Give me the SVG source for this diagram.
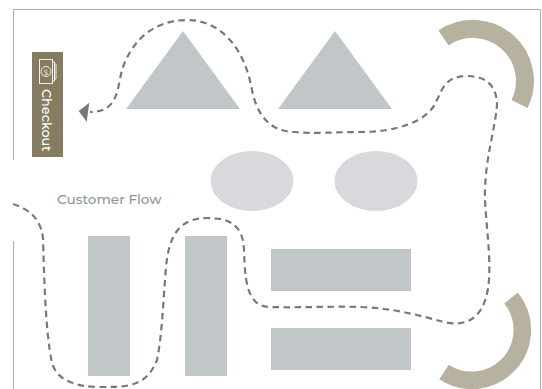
<svg xmlns="http://www.w3.org/2000/svg" width="542" height="389" viewBox="0 0 542 389">
<style>
.frame{fill:none;stroke:#aeaeae;stroke-width:1}
.tri{fill:#c1c7c9}
.rect{fill:#c1c7c9}
.ell{fill:#d7d9dd}
.arc{fill:none;stroke:#b7b2a0}
.flow{fill:none;stroke:#77787c;stroke-width:2.200;stroke-dasharray:6.500 4.500}
.t{font-family:"Montserrat","Inter","Liberation Sans",sans-serif}
</style>
<rect width="542" height="389" fill="#fff"/>
<path class="frame" d="M13.500 160V9.500H540.500V389M13.500 241V389"/>
<g id="node-triangle-1"><polygon class="tri" points="183,31 240,109 126,109"/></g>
<g id="node-triangle-2"><polygon class="tri" points="335,31 392,109 278,109"/></g>
<g id="node-ellipse-1"><ellipse class="ell" cx="252" cy="181" rx="41.500" ry="30"/></g>
<g id="node-ellipse-2"><ellipse class="ell" cx="376" cy="181" rx="41.500" ry="30"/></g>
<g id="node-rect-1"><rect class="rect" x="88" y="236" width="42" height="140"/></g>
<g id="node-rect-2"><rect class="rect" x="185" y="236" width="42" height="140"/></g>
<g id="node-rect-3"><rect class="rect" x="271" y="249" width="140" height="42"/></g>
<g id="node-rect-4"><rect class="rect" x="271" y="328" width="140" height="42"/></g>
<g id="node-arc-1"><path class="arc" stroke-width="18" d="M443.500 38A52 52 0 0 1 519.500 104"/></g>
<g id="node-arc-2"><path class="arc" stroke-width="17.500" d="M511 298A50.500 50.500 0 0 1 444 372"/></g>
<g id="node-checkout"><rect x="32" y="52" width="31" height="105" fill="#867c5f"/>
<g fill="none" stroke="#eee" stroke-width="1"><rect x="39.500" y="59.500" width="13" height="24"/><circle cx="46" cy="71.500" r="5"/><path d="M52.500 62H54.500V81H52.500M54.500 64H56V79H54.500"/></g>
<text class="t" x="46" y="74.500" font-size="8" fill="#eee" text-anchor="middle">$</text>
<text class="t" transform="translate(42,89) rotate(90)" font-size="12.800" font-weight="500" fill="#fff">Checkout</text></g>
<g id="label"><text class="t" x="57" y="204" font-size="13.600" font-weight="500" fill="#8a979e">Customer Flow</text></g>
<g id="connectors"><path class="flow" d="M13 204C25 208 40 215 43 238C44 270 45 330 52 363C57 380 75 387 100 387C125 387 146 388 157 360C162 335 163 305 165 280C167 250 170 218 207 218C230 218 243 225 244 250C245 275 245 307 270 307C300 308 330 306 360 307C395 308 425 317 440 321C455 325 485 330 489 280C491 250 484 210 485 190C486 155 495 130 497 105C497 85 485 76 467 76C445 76 442 90 436 102C428 120 400 132 360 132C335 132 310 134 295 132C270 132 257 115 252 90C245 50 222 20 187 20C150 20 130 45 122 70C117 90 118 112 90 112"/>
<polygon points="78.700,111 89.300,102.700 86.700,121.700" fill="#77787c"/></g>
</svg>
